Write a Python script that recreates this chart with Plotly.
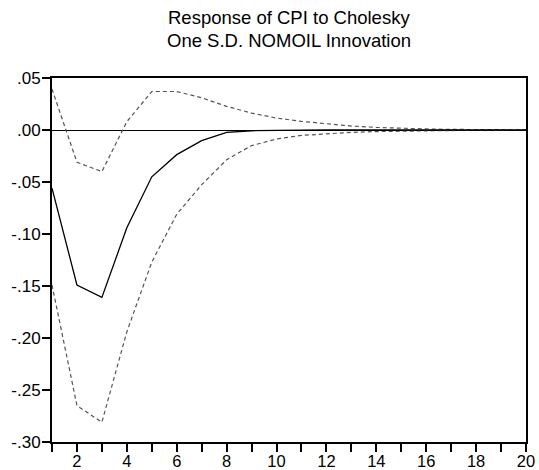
import plotly.graph_objects as go

periods = list(range(1, 21))
response = [-0.056, -0.149, -0.161, -0.094, -0.045, -0.0237, -0.0103, -0.0023, -0.0007, -0.0002,
            0.0001, 0.0001, 0.0001, 0.0, 0.0, 0.0, 0.0, 0.0, 0.0, 0.0]
upper = [0.0394, -0.031, -0.040, 0.008, 0.037, 0.037, 0.031, 0.0227, 0.0163, 0.0115,
         0.0083, 0.0058, 0.0038, 0.0025, 0.0016, 0.0010, 0.0006, 0.0004, 0.0002, 0.0001]
lower = [-0.149, -0.265, -0.281, -0.194, -0.127, -0.081, -0.0526, -0.0286, -0.015, -0.0087,
         -0.0052, -0.0036, -0.0023, -0.0015, -0.0010, -0.0006, -0.0004, -0.0002, -0.0001, -0.0001]

y_tickvals = [0.05, 0.0, -0.05, -0.10, -0.15, -0.20, -0.25, -0.30]
y_ticktext = [".05", ".00", "-.05", "-.10", "-.15", "-.20", "-.25", "-.30"]
x_tickvals = periods
x_ticktext = [str(p) if p % 2 == 0 else "" for p in periods]

title_lines = ["Response of CPI to Cholesky", "One S.D. NOMOIL Innovation"]

W, H = 539, 470
L, R, T, B = 52, 13, 78, 28
plot_h = H - T - B

fig = go.Figure()
fig.add_trace(go.Scatter(x=periods, y=upper, mode="lines",
                         line=dict(color="#555555", width=1.2, dash="4px,3px")))
fig.add_trace(go.Scatter(x=periods, y=lower, mode="lines",
                         line=dict(color="#555555", width=1.2, dash="4px,3px")))
fig.add_trace(go.Scatter(x=periods, y=response, mode="lines",
                         line=dict(color="black", width=1.3)))

font = "Liberation Sans, Arial, sans-serif"
for i, (line, cy) in enumerate(zip(title_lines, [18, 41])):
    fig.add_annotation(text=line, xref="paper", yref="paper",
                       x=0.5, y=1 + (T - cy) / plot_h, xanchor="center", yanchor="middle",
                       showarrow=False, font=dict(family=font, size=18.5, color="black"))

fig.update_layout(
    width=W, height=H,
    margin=dict(l=L, r=R, t=T, b=B),
    paper_bgcolor="white", plot_bgcolor="white",
    showlegend=False,
    font=dict(family=font, size=16.5, color="black"),
)
fig.update_xaxes(range=[1, 20], tickvals=x_tickvals, ticktext=x_ticktext,
                 ticks="outside", ticklen=8, tickwidth=1.5, tickcolor="black",
                 showline=True, linecolor="black", linewidth=2, mirror=True,
                 showgrid=False, zeroline=False, automargin=False,
                 ticklabelstandoff=-5,
                 tickfont=dict(family=font, size=16.5))
fig.update_yaxes(range=[-0.30, 0.05], tickvals=y_tickvals, ticktext=y_ticktext,
                 ticks="outside", ticklen=8, tickwidth=1.5, tickcolor="black",
                 showline=True, linecolor="black", linewidth=2, mirror=True,
                 showgrid=False, zeroline=True, zerolinecolor="black", zerolinewidth=1,
                 automargin=False, ticklabelstandoff=-2,
                 tickfont=dict(family=font, size=17))

fig.write_html("out.html")
